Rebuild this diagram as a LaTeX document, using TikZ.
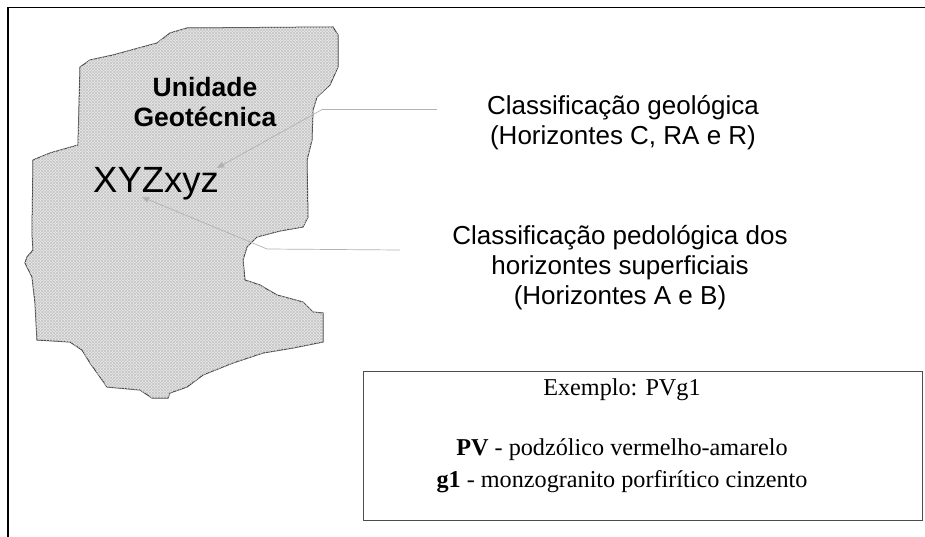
\documentclass[tikz,border=0pt]{standalone}
\usepackage{fontspec}
\setmainfont{Liberation Serif}
\setsansfont{Liberation Sans}
\usepackage{tikz}
\usetikzlibrary{patterns,arrows.meta}

\tikzset{
    unitshape/.style={draw=black!75, line width=1pt, fill=gray!18,
        postaction={pattern=north east lines, pattern color=gray!45},
        postaction={pattern=north west lines, pattern color=gray!45}},
    callout/.style={draw=gray!60, line width=0.7pt},
    tipend/.style={-{Triangle[length=7pt,width=6pt]}},
    sanslabel/.style={font=\sffamily\fontsize{26}{30}\selectfont, align=center},
    serifline/.style={font=\rmfamily\fontsize{24.2}{28}\selectfont}
}

\begin{document}
\begin{tikzpicture}[x=1pt,y=-1pt]
    \useasboundingbox (0,0) rectangle (925,537);

    % frame (open on the right and bottom)
    \draw[line width=1.6pt] (8,537) -- (8,7.5) -- (925,7.5);

    % the geotechnical unit
    \draw[unitshape] (187,28) -- (333,27) -- (338,35) -- (338,67) -- (330,85)
        -- (317,97) -- (313,110) -- (312,140) -- (307,160) -- (308,217)
        -- (303,227) -- (280,231) -- (257,237) -- (247,247) -- (243,260)
        -- (245,280) -- (260,285) -- (277,295) -- (303,302) -- (313,312)
        -- (323,313) -- (323,342) -- (293,348) -- (263,353) -- (233,363)
        -- (203,375) -- (187,387) -- (170,393) -- (168,398) -- (152,398)
        -- (140,390) -- (107,387) -- (100,377) -- (90,363) -- (82,350)
        -- (70,342) -- (37,340) -- (35,303) -- (32,277) -- (25,263)
        -- (27,257) -- (33,250) -- (32,233) -- (33,160) -- (50,153)
        -- (78,145) -- (80,67) -- (90,60) -- (113,55) -- (157,43)
        -- (170,33) -- cycle;

    \node[sanslabel, font=\sffamily\bfseries\fontsize{26.5}{30}\selectfont] (unit) at (205,102) {Unidade\\Geotécnica};
    \node[font=\sffamily\fontsize{36.5}{40}\selectfont, anchor=base west, inner sep=0pt] (code) at (93,193) {XYZxyz};

    % labels on the right
    \node[sanslabel] (geo) at (623,123) {Classificação geológica\\(Horizontes C, RA e R)};
    \node[sanslabel] (pedo) at (620,268) {Classificação pedológica dos\\horizontes superficiais\\(Horizontes A e B)};

    % callouts
    \coordinate (geostart) at (437,109);
    \coordinate (geobend) at (323,109);
    \coordinate (geotip) at (217,168);
    \coordinate (pedostart) at (400,250);
    \coordinate (pedobend) at (267,249);
    \coordinate (pedotip) at (142,197);
    \draw[callout] (geostart) -- (geobend);
    \draw[callout, tipend] (geobend) -- (geotip);
    \draw[callout] (pedostart) -- (pedobend);
    \draw[callout, tipend] (pedobend) -- (pedotip);

    % example box
    \draw[draw=black!70, line width=1pt] (363,371) rectangle (922,520);
    \node[serifline] (ex) at (622,390) {Exemplo: PVg1};
    \node[serifline] (pv) at (622,450) {\textbf{PV} - podzólico vermelho-amarelo};
    \node[serifline] (g1) at (622,482) {\textbf{g1} - monzogranito porfirítico cinzento};
\end{tikzpicture}
\end{document}
